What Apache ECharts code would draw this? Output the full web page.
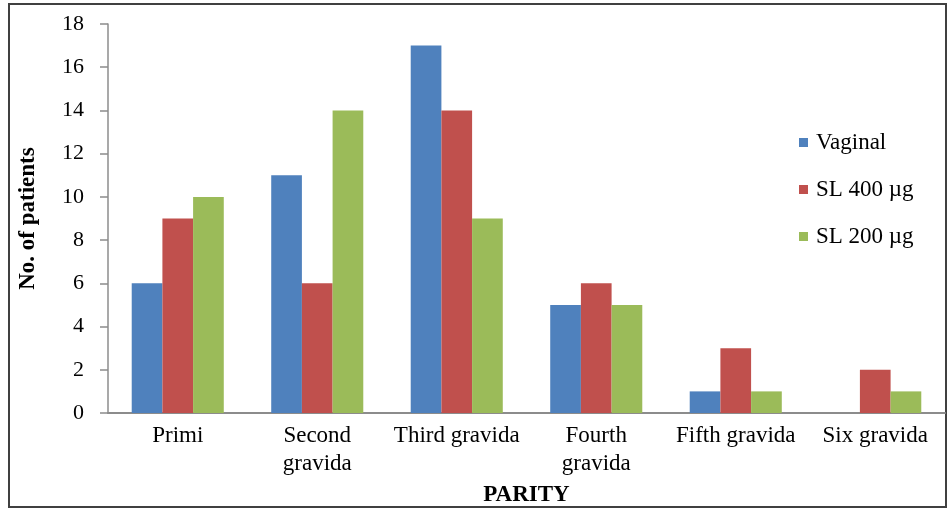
<!DOCTYPE html>
<html>
<head>
<meta charset="utf-8">
<script src="https://cdn.jsdelivr.net/npm/echarts@6/dist/echarts.min.js"></script>
<style>
  html, body { margin: 0; padding: 0; background: #fff; }
  #chart { width: 949px; height: 510px; }
</style>
</head>
<body>
<div id="chart"></div>
<script>
// Parity groups and patient counts per induction route
const categories = ['Primi', 'Second\ngravida', 'Third gravida', 'Fourth\ngravida', 'Fifth gravida', 'Six gravida'];
const seriesNames = ['Vaginal', 'SL 400 \u00b5g', 'SL 200 \u00b5g'];
const vaginal = [6, 11, 17, 5, 1, 0];
const sl400 = [9, 6, 14, 6, 3, 2];
const sl200 = [10, 14, 9, 5, 1, 1];
const yTicks = { min: 0, max: 18, interval: 2 };

const colors = ['#4F81BD', '#C0504D', '#9BBB59'];
const font = '"Liberation Serif", "DejaVu Serif", serif';
const axisColor = '#8c8c8c';

const chart = echarts.init(document.getElementById('chart'), null, { renderer: 'canvas' });

function bar(name, data, color) {
  return {
    name: name,
    type: 'bar',
    data: data,
    barGap: '0%',
    barCategoryGap: '34%',
    itemStyle: { color: color },
    emphasis: { disabled: true }
  };
}

chart.setOption({
  animation: false,
  color: colors,
  textStyle: { fontFamily: font, color: '#000' },
  graphic: [{
    type: 'rect',
    shape: { x: 9, y: 4, width: 937, height: 503 },
    style: { fill: 'none', stroke: '#404040', lineWidth: 2 },
    silent: true
  }],
  grid: { left: 108, top: 24, right: 4, bottom: 97, outerBoundsMode: 'none', containLabel: false },
  legend: {
    orient: 'vertical',
    left: 794,
    top: 126,
    itemWidth: 9,
    itemHeight: 9,
    itemGap: 24,
    icon: 'rect',
    textStyle: { fontFamily: font, fontSize: 23, color: '#000', padding: [0, 0, 0, 3] },
    data: seriesNames
  },
  xAxis: {
    type: 'category',
    data: categories,
    name: 'PARITY',
    nameLocation: 'middle',
    nameGap: 71,
    nameTextStyle: { fontFamily: font, fontSize: 23, fontWeight: 'bold', color: '#000' },
    axisLine: { lineStyle: { color: axisColor, width: 2 } },
    axisTick: { show: false },
    axisLabel: { fontFamily: font, fontSize: 23, color: '#000', margin: 9, lineHeight: 28, interval: 0 }
  },
  yAxis: {
    type: 'value',
    min: yTicks.min,
    max: yTicks.max,
    interval: yTicks.interval,
    name: 'No. of patients',
    nameLocation: 'middle',
    nameGap: 68,
    nameTextStyle: { fontFamily: font, fontSize: 23, fontWeight: 'bold', color: '#000' },
    splitLine: { show: false },
    axisLine: { show: true, lineStyle: { color: axisColor, width: 1.5 } },
    axisTick: { show: true, length: 8, lineStyle: { color: axisColor, width: 1.5 } },
    axisLabel: { fontFamily: font, fontSize: 22, color: '#000', margin: 24 }
  },
  series: [
    bar(seriesNames[0], vaginal, colors[0]),
    bar(seriesNames[1], sl400, colors[1]),
    bar(seriesNames[2], sl200, colors[2])
  ]
});
</script>
</body>
</html>
